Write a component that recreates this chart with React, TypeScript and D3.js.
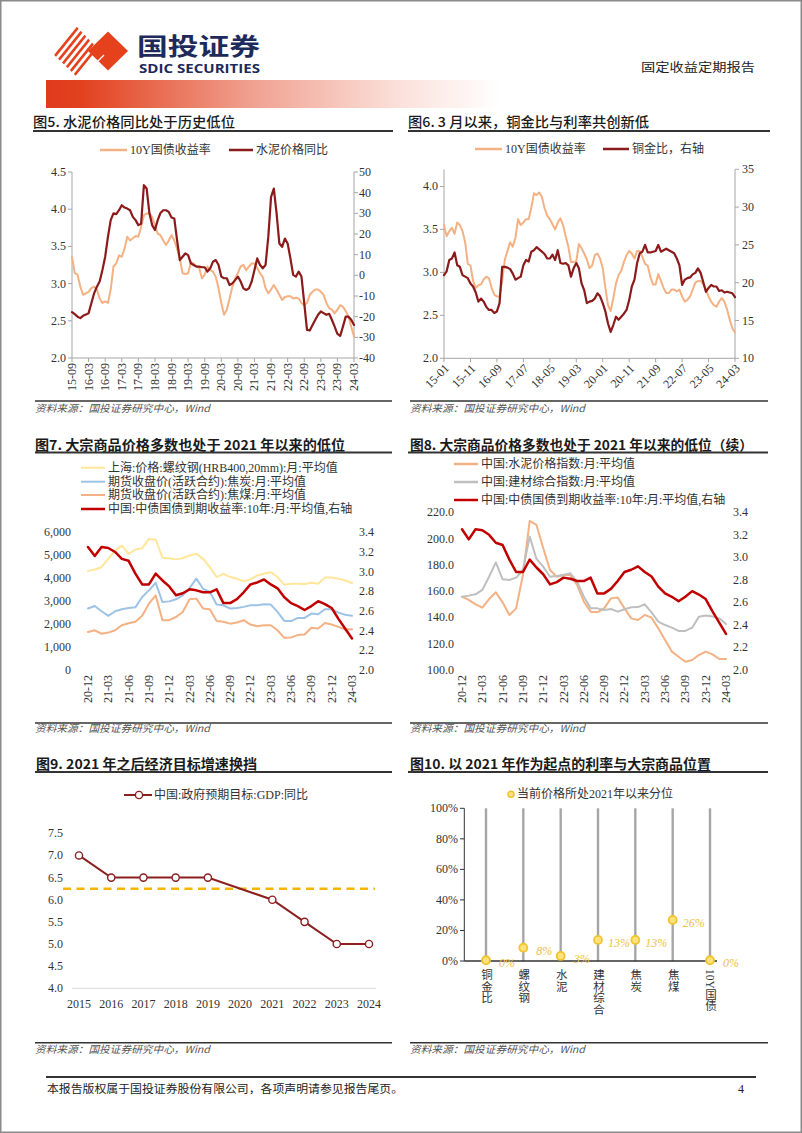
import React from 'react';
import * as d3 from 'd3';

const SERIF = '"Liberation Serif","Times New Roman","Noto Sans CJK SC",serif';
const CJK = '"Noto Sans CJK SC","Noto Sans",sans-serif';

function monthLabels(start: string, n: number): string[] {
  const [yy, mm] = start.split('-').map(Number);
  const out: string[] = [];
  for (let i = 0; i < n; i++) {
    const t = yy * 12 + (mm - 1) + i;
    const y = Math.floor(t / 12) % 100;
    const m = (t % 12) + 1;
    out.push(`${String(y).padStart(2, '0')}-${String(m).padStart(2, '0')}`);
  }
  return out;
}

// ---------- Chart 5: 10Y yield vs cement price YoY ----------
const c5Months = monthLabels('15-09', 103);
const c5Ticks = ['15-09','16-03','16-09','17-03','17-09','18-03','18-09','19-03','19-09','20-03','20-09','21-03','21-09','22-03','22-09','23-03','23-09','24-03'];
const c5Yield = [
  3.36,3.14,3.12,2.96,
  2.85,2.87,2.89,2.94,2.96,2.92,2.80,2.74,2.76,2.74,2.92,3.23,
  3.27,3.38,3.36,3.47,3.63,3.58,3.61,3.64,3.63,3.76,3.92,3.94,
  3.95,3.89,3.79,3.67,3.65,3.58,3.52,3.58,3.65,3.58,3.47,3.34,
  3.14,3.13,3.14,3.29,3.27,3.23,3.21,3.07,3.12,3.23,3.18,3.16,
  3.09,2.94,2.74,2.58,2.65,2.80,2.96,3.07,3.14,3.23,3.25,3.18,
  3.23,3.27,3.27,3.21,3.14,3.09,2.94,2.87,2.92,2.98,2.92,2.85,
  2.78,2.82,2.83,2.83,2.80,2.81,2.80,2.74,2.71,2.74,2.85,2.89,
  2.92,2.92,2.89,2.85,2.74,2.67,2.65,2.60,2.65,2.71,2.69,2.63,
  2.56,2.42,2.29,
];
const c5Cement = [
  -17.8,-18.8,-20,-20.7,
  -19.6,-19,-18.3,-13.5,-8.7,-5.5,-3,2.6,9,18.6,26.7,30,
  29.6,31.5,33.9,32.8,32.3,31.5,28.3,26.7,24.3,25,43.6,42,
  30,24.3,21.9,26.7,30.2,31.5,31.5,30.7,28,27.5,17,7.4,
  9,10.6,9.8,5.8,5,4.2,4.2,3.9,3.9,1.8,3.4,6.6,
  7.4,5,-0.6,-1.4,-1.4,-4.7,-3.9,-2.3,-0.6,-3,-6.3,-7.1,
  -6.3,-3,2.6,8.2,5,3.4,5,18.6,38,42,30,15.4,
  13.8,17.8,15.4,8.2,0.2,-0.6,1.8,-0.6,-13.5,-26.4,-26.7,-24,
  -21.5,-19.1,-17.5,-18.3,-19.1,-18.6,-21.5,-24.8,-28.3,-29.3,-24.8,-20,
  -20,-21.5,-24,
];
const c5LeftTicks = [2.0, 2.5, 3.0, 3.5, 4.0, 4.5];
const c5RightTicks = [-40, -30, -20, -10, 0, 10, 20, 30, 40, 50];

// ---------- Chart 6: 10Y yield vs copper/gold ratio ----------
const c6Months = monthLabels('15-01', 111);
const c6Ticks = ['15-01','15-11','16-09','17-07','18-05','19-03','20-01','20-11','21-09','22-07','23-05','24-03'];
const c6Yield = [
  3.55,3.42,3.48,3.52,3.45,3.58,3.55,3.48,3.35,3.10,3.08,2.90,
  2.82,2.85,2.86,2.92,2.95,2.93,2.82,2.74,2.72,2.72,2.90,3.15,
  3.25,3.35,3.30,3.40,3.62,3.55,3.58,3.62,3.62,3.75,3.92,3.90,
  3.93,3.88,3.75,3.66,3.62,3.56,3.50,3.58,3.63,3.55,3.42,3.30,
  3.12,3.12,3.13,3.33,3.28,3.22,3.15,3.05,3.08,3.20,3.22,3.16,
  3.05,2.82,2.62,2.55,2.70,2.87,2.97,3.02,3.12,3.20,3.25,3.22,
  3.16,3.25,3.25,3.18,3.10,3.08,2.95,2.86,2.86,2.98,2.90,2.82,
  2.76,2.76,2.80,2.80,2.78,2.80,2.72,2.66,2.68,2.72,2.80,2.88,
  2.90,2.90,2.86,2.80,2.72,2.66,2.62,2.60,2.66,2.70,2.66,2.57,
  2.45,2.35,2.30,
];
const c6CopperGold = [
  21.0,21.5,23.0,23.2,24.0,22.3,22.1,21.0,20.8,20.6,19.9,19.5,
  18.7,17.5,17.9,17.5,16.8,16.4,16.4,16.0,16.2,17.3,22.1,22.1,
  22.0,21.8,21.2,20.4,20.6,20.8,22.3,23.0,22.8,24.1,24.3,24.7,
  24.4,24.1,23.8,23.2,23.2,23.7,23.0,24.3,22.6,22.5,22.6,22.3,
  20.8,21.9,22.6,21.9,19.9,19.0,17.3,17.5,17.6,17.9,18.6,18.2,
  17.3,16.2,14.6,13.5,14.4,15.5,15.1,15.5,15.9,16.4,17.7,19.5,
  20.4,22.6,23.9,24.1,25.0,24.0,24.0,24.1,24.2,25.0,24.1,24.3,
  24.5,24.3,24.1,23.9,23.2,22.3,19.7,20.4,20.6,20.7,21.1,21.3,
  21.9,21.3,20.1,18.8,19.3,19.7,19.5,19.5,18.9,19.0,18.7,18.8,
  18.7,18.6,18.1,
];
const c6LeftTicks = [2.0, 2.5, 3.0, 3.5, 4.0];
const c6RightTicks = [10, 15, 20, 25, 30, 35];

// ---------- Charts 7 & 8: commodities since 2021 ----------
const c78Months = monthLabels('20-12', 40);
const c78Ticks = ['20-12','21-03','21-06','21-09','21-12','22-03','22-06','22-09','22-12','23-03','23-06','23-09','23-12','24-03'];
const rebar = [4309,4380,4480,4840,5200,5420,5060,5250,5300,5710,5680,4890,4870,4820,4870,4990,5060,4840,4480,4050,4190,4050,3980,3860,3950,4120,4190,4270,4050,3720,3760,3760,3750,3800,3760,4030,4030,3980,3900,3790];
const coke = [2680,2790,2560,2360,2560,2650,2700,2730,3180,3470,3800,2960,2990,3080,3250,3570,3980,3540,3400,2850,2820,2680,2700,2750,2820,2820,2860,2850,2530,2140,2130,2270,2270,2460,2430,2650,2650,2500,2410,2360];
const cokingCoal = [1660,1730,1580,1630,1730,1950,2040,2100,2360,2890,3250,2170,2170,2310,2530,3080,3110,2680,2650,2130,2100,2020,2070,2170,1980,1910,1950,1950,1730,1400,1420,1520,1550,1840,1810,2050,1980,1880,1760,1780];
const cgb10y = [3.25,3.16,3.25,3.24,3.20,3.13,3.11,2.98,2.87,2.87,2.98,2.91,2.85,2.76,2.78,2.82,2.81,2.79,2.79,2.82,2.68,2.68,2.72,2.79,2.87,2.89,2.92,2.87,2.83,2.74,2.68,2.65,2.61,2.65,2.70,2.67,2.63,2.52,2.42,2.32];
const cementIdx = [155.8,153.3,150.0,147.4,154.0,159.1,151.5,141.9,146.9,172.3,213.4,210.4,192.6,176.1,171.0,172.3,172.3,164.7,152.0,144.4,143.9,146.9,154.5,155.1,146.9,139.3,138.1,141.9,139.8,131.7,122.8,114.0,110.1,106.3,107.6,111.4,114.0,111.9,108.4,108.4];
const buildIdx = [155.8,156.6,157.6,160.9,171.0,181.9,169.0,168.5,170.3,176.1,201.5,184.5,178.6,171.0,171.5,172.3,173.6,167.2,155.8,146.9,146.9,145.7,146.4,144.4,146.2,147.7,147.9,150.0,143.9,136.8,134.2,132.2,129.7,129.7,132.2,140.6,141.4,140.8,139.3,135.0];
const c7LeftTicks = [0, 1000, 2000, 3000, 4000, 5000, 6000];
const c8LeftTicks = [100, 120, 140, 160, 180, 200, 220];
const yieldTicks = [2.0, 2.2, 2.4, 2.6, 2.8, 3.0, 3.2, 3.4];

// ---------- Chart 9: GDP target ----------
const gdpYears = ['2015','2016','2017','2018','2019','2020','2021','2022','2023','2024'];
const gdpTarget: (number | null)[] = [7.0, 6.5, 6.5, 6.5, 6.5, null, 6.0, 5.5, 5.0, 5.0];
const gdpRefLevel = 6.25;
const gdpTicks = [4.0, 4.5, 5.0, 5.5, 6.0, 6.5, 7.0, 7.5];

// ---------- Chart 10: percentile since 2021 ----------
const pctCats = ['铜金比','螺纹钢','水泥','建材综合','焦炭','焦煤','10Y国债'];
const pctValues = [0.5, 8.7, 3.3, 13.8, 13.8, 26.9, 0.5];
const pctLabels = ['0%','8%','3%','13%','13%','26%','0%'];
const pctTicks = [0, 20, 40, 60, 80, 100];

type Series = { values: number[]; axis: 'l' | 'r'; color: string; width: number };
type DualProps = {
  months: string[]; x0: number; x1: number; yTop: number; yBot: number;
  lDomain: [number, number]; rDomain: [number, number];
  lTicks: number[]; rTicks: number[];
  lFmt: (v: number) => string; rFmt: (v: number) => string;
  lLabelX: number; rLabelX: number;
  tickLabels: string[]; rotate: number; axes: boolean; series: Series[];
  xLabelOff: number;
};

function DualChart(p: DualProps) {
  const x = d3.scalePoint<string>().domain(p.months).range([p.x0, p.x1]);
  const yl = d3.scaleLinear().domain(p.lDomain).range([p.yBot, p.yTop]);
  const yr = d3.scaleLinear().domain(p.rDomain).range([p.yBot, p.yTop]);
  const axisC = '#a6a6a6';
  return (
    <g>
      {p.axes && (
        <g stroke={axisC} strokeWidth={1} fill="none">
          <line x1={p.x0} x2={p.x0} y1={p.yTop} y2={p.yBot} />
          {p.lTicks.map(v => <line key={'lt' + v} x1={p.x0 - 4} x2={p.x0} y1={yl(v)} y2={yl(v)} />)}
          <line x1={p.x1} x2={p.x1} y1={p.yTop} y2={p.yBot} />
          {p.rTicks.map(v => <line key={'rt' + v} x1={p.x1} x2={p.x1 + 4} y1={yr(v)} y2={yr(v)} />)}
          <line x1={p.x0} x2={p.x1} y1={p.yBot} y2={p.yBot} />
          {p.tickLabels.map(m => <line key={'xt' + m} x1={x(m)} x2={x(m)} y1={p.yBot} y2={p.yBot + 4} />)}
        </g>
      )}
      <g fontFamily={SERIF} fontSize={12} fill="#333">
        {p.lTicks.map(v => (
          <text key={'l' + v} x={p.lLabelX} y={yl(v)} textAnchor="end" dominantBaseline="central">{p.lFmt(v)}</text>
        ))}
        {p.rTicks.map(v => (
          <text key={'r' + v} x={p.rLabelX} y={yr(v)} textAnchor="start" dominantBaseline="central">{p.rFmt(v)}</text>
        ))}
        {p.tickLabels.map(m => {
          const xx = x(m)!;
          const tr = p.rotate === -90
            ? `translate(${xx},${p.yBot + p.xLabelOff}) rotate(-90)`
            : `translate(${xx + 3},${p.yBot + p.xLabelOff}) rotate(-45)`;
          return <text key={'x' + m} transform={tr} textAnchor="end" dominantBaseline="central">{m}</text>;
        })}
      </g>
      {p.series.map((s, si) => {
        const ys = s.axis === 'l' ? yl : yr;
        const line = d3.line<number>()
          .x((_, i) => x(p.months[i])!)
          .y(v => ys(v))
          .curve(d3.curveLinear);
        return <path key={si} d={line(s.values) || ''} fill="none" stroke={s.color} strokeWidth={s.width} strokeLinejoin="round" strokeLinecap="round" />;
      })}
    </g>
  );
}

function LegendLine({ x, y, w, color, width, label, size = 12 }: { x: number; y: number; w: number; color: string; width: number; label: string; size?: number }) {
  return (
    <g>
      <line x1={x} x2={x + w} y1={y} y2={y} stroke={color} strokeWidth={width} />
      <text x={x + w + 3} y={y} dominantBaseline="central" fontFamily={SERIF} fontSize={size} fill="#333">{label}</text>
    </g>
  );
}

function Title({ x, y, text, len, bold = true, lineX1, lineX2, lineY }: { x: number; y: number; text: string; len: number; bold?: boolean; lineX1: number; lineX2: number; lineY: number }) {
  return (
    <g>
      <text x={x} y={y} fontFamily={CJK} fontWeight={bold ? 700 : 500} fontSize={13.5} fill="#1a1a1a" textLength={len} lengthAdjust="spacingAndGlyphs">{text}</text>
      <line x1={lineX1} x2={lineX2} y1={lineY} y2={lineY} stroke="#333" strokeWidth={2} />
    </g>
  );
}

function Source({ x, y, lineX2, lineY }: { x: number; y: number; lineX2: number; lineY: number }) {
  return (
    <g>
      <line x1={x} x2={lineX2} y1={lineY} y2={lineY} stroke="#333" strokeWidth={1.5} />
      <text x={x} y={y} fontFamily={CJK} fontStyle="italic" fontSize={10} fill="#555" textLength={175} lengthAdjust="spacingAndGlyphs">资料来源：国投证券研究中心，Wind</text>
    </g>
  );
}

function Chart9() {
  const x = d3.scalePoint<string>().domain(gdpYears).range([79, 369]);
  const y = d3.scaleLinear().domain([4, 7.5]).range([988.3, 833.3]);
  const pts = gdpYears.map((yr, i) => ({ yr, v: gdpTarget[i] })).filter(d => d.v !== null) as { yr: string; v: number }[];
  const line = d3.line<{ yr: string; v: number }>().x(d => x(d.yr)!).y(d => y(d.v));
  const color = '#8c1f1f';
  return (
    <g>
      <line x1={72} x2={376} y1={y(4)} y2={y(4)} stroke="#d9d9d9" strokeWidth={1} />
      <g fontFamily={SERIF} fontSize={12} fill="#333">
        {gdpTicks.map(v => <text key={v} x={63} y={y(v)} textAnchor="end" dominantBaseline="central">{v.toFixed(1)}</text>)}
        {gdpYears.map(yr => <text key={yr} x={x(yr)} y={1003.5} textAnchor="middle" dominantBaseline="central">{yr}</text>)}
      </g>
      <line x1={63} x2={375} y1={y(gdpRefLevel)} y2={y(gdpRefLevel)} stroke="#f5b400" strokeWidth={2.5} strokeDasharray="8 5.5" />
      <path d={line(pts) || ''} fill="none" stroke={color} strokeWidth={2} />
      {pts.map(d => <circle key={d.yr} cx={x(d.yr)} cy={y(d.v)} r={3.6} fill="#fff" stroke={color} strokeWidth={1.4} />)}
      <line x1={124} x2={152} y1={795} y2={795} stroke={color} strokeWidth={2} />
      <circle cx={139} cy={795} r={3.6} fill="#fff" stroke={color} strokeWidth={1.4} />
      <text x={154} y={795} dominantBaseline="central" fontFamily={SERIF} fontSize={12} fill="#333">中国:政府预期目标:GDP:同比</text>
    </g>
  );
}

function Chart10() {
  const x = d3.scalePoint<string>().domain(pctCats).range([486, 710]);
  const y = d3.scaleLinear().domain([0, 100]).range([961, 808.3]);
  const dotFill = '#ffe27a';
  const dotStroke = '#f2c230';
  return (
    <g>
      {pctCats.map(c => (
        <line key={'v' + c} x1={x(c)} x2={x(c)} y1={y(0)} y2={y(100)} stroke="#a6a6a6" strokeWidth={2.4} />
      ))}
      <g stroke="#333" strokeWidth={1}>
        <line x1={464.3} x2={464.3} y1={y(0)} y2={y(100)} />
        {pctTicks.map(v => <line key={'t' + v} x1={460} x2={464.3} y1={y(v)} y2={y(v)} />)}
        <line x1={464.3} x2={717} y1={y(0)} y2={y(0)} strokeWidth={1.5} />
      </g>
      <g fontFamily={SERIF} fontSize={12} fill="#333">
        {pctTicks.map(v => <text key={v} x={458} y={y(v)} textAnchor="end" dominantBaseline="central">{v}%</text>)}
      </g>
      {pctCats.map((c, i) => (
        <g key={'d' + c}>
          <circle cx={x(c)} cy={y(pctValues[i])} r={4} fill={dotFill} stroke={dotStroke} strokeWidth={1.8} />
          <text x={x(c)! + 21} y={y(pctValues[i]) + 3} textAnchor="middle" dominantBaseline="central" fontFamily={SERIF} fontStyle="italic" fontSize={12} fill="#f0c040">{pctLabels[i]}</text>
        </g>
      ))}
      <g fontFamily={SERIF} fontSize={11.5} fill="#333">
        {pctCats.map(c => (
          <text key={'c' + c} x={x(c)} y={969} style={{ writingMode: 'vertical-rl' as any }}>{c}</text>
        ))}
      </g>
      <circle cx={511} cy={794.3} r={3} fill={dotFill} stroke={dotStroke} strokeWidth={1.5} />
      <text x={517} y={794.3} dominantBaseline="central" fontFamily={SERIF} fontSize={12} fill="#333">当前价格所处2021年以来分位</text>
    </g>
  );
}

function Logo() {
  const red = '#e5411d';
  const stripes = d3.range(7);
  return (
    <g>
      <defs>
        <clipPath id="stripeClip">
          <polygon points="50,51 76,26 100,51 76,76" />
        </clipPath>
      </defs>
      <g clipPath="url(#stripeClip)" stroke={red} strokeWidth={2.6}>
        {stripes.map(i => (
          <line key={i} x1={38 + i * 7} y1={77} x2={80 + i * 7} y2={25} />
        ))}
      </g>
      <polygon points="108,31.5 128,51 108,70.5 88,51" fill={red} />
      <line x1={96} y1={63} x2={104} y2={55} stroke="#fff" strokeWidth={1.2} />
      <text x={137} y={55} fontFamily={CJK} fontWeight={700} fontSize={24} fill="#1d2a5b" textLength={123} lengthAdjust="spacingAndGlyphs">国投证券</text>
      <text x={139} y={73} fontFamily='"Open Sans","Noto Sans",sans-serif' fontWeight={700} fontSize={12} fill="#1d2a5b" textLength={121} lengthAdjust="spacingAndGlyphs">SDIC SECURITIES</text>
    </g>
  );
}

export default function App() {
  const W = 802, H = 1133;
  return (
    <svg width={W} height={H} viewBox={`0 0 ${W} ${H}`} style={{ position: 'absolute', left: 0, top: 0, background: '#fff' }}>
      <defs>
        <linearGradient id="hdrGrad" x1="0" x2="1" y1="0" y2="0">
          <stop offset="0" stopColor="#e03a1c" />
          <stop offset="0.08" stopColor="#e2421f" />
          <stop offset="0.45" stopColor="#f0a08f" />
          <stop offset="0.78" stopColor="#fbe1db" />
          <stop offset="1" stopColor="#ffffff" />
        </linearGradient>
      </defs>
      <rect x={0} y={0} width={W} height={H} fill="#fff" />
      <rect x={0.75} y={0.75} width={W - 1.5} height={H - 1.5} fill="none" stroke="#8a8a8a" strokeWidth={1.5} />

      {/* header */}
      <Logo />
      <text x={641} y={72} fontFamily={CJK} fontSize={12} fill="#222" textLength={114} lengthAdjust="spacingAndGlyphs">固定收益定期报告</text>
      <rect x={46} y={80} width={454} height={28} fill="url(#hdrGrad)" />

      {/* Chart 5 */}
      <Title x={33} y={127} text="图5. 水泥价格同比处于历史低位" len={202} bold={false} lineX1={33} lineX2={393} lineY={131} />
      <LegendLine x={100} y={150} w={27} color="#f4b183" width={2.5} label="10Y国债收益率" />
      <LegendLine x={229} y={150} w={24} color="#8b1a1a" width={2.5} label="水泥价格同比" />
      <DualChart months={c5Months} x0={72} x1={354} yTop={172} yBot={358}
        lDomain={[2, 4.5]} rDomain={[-40, 50]} lTicks={c5LeftTicks} rTicks={c5RightTicks}
        lFmt={v => v.toFixed(1)} rFmt={v => String(v)} lLabelX={66} rLabelX={359}
        tickLabels={c5Ticks} rotate={-90} axes={true} xLabelOff={5}
        series={[
          { values: c5Yield, axis: 'l', color: '#f4b183', width: 2 },
          { values: c5Cement, axis: 'r', color: '#8b1a1a', width: 2.2 },
        ]} />
      <Source x={35} y={412} lineX2={392} lineY={401} />

      {/* Chart 6 */}
      <Title x={408} y={127} text="图6. 3 月以来，铜金比与利率共创新低" len={241} bold={false} lineX1={408} lineX2={770} lineY={131} />
      <LegendLine x={475} y={149} w={27} color="#f4b183" width={2.5} label="10Y国债收益率" />
      <LegendLine x={603} y={149} w={26} color="#8b1a1a" width={2.5} label="铜金比，右轴" />
      <DualChart months={c6Months} x0={444} x1={735} yTop={169.3} yBot={358.3}
        lDomain={[2, 4.2]} rDomain={[10, 35]} lTicks={c6LeftTicks} rTicks={c6RightTicks}
        lFmt={v => v.toFixed(1)} rFmt={v => String(v)} lLabelX={438} rLabelX={742}
        tickLabels={c6Ticks} rotate={-45} axes={true} xLabelOff={8}
        series={[
          { values: c6Yield, axis: 'l', color: '#f4b183', width: 2 },
          { values: c6CopperGold, axis: 'r', color: '#8b1a1a', width: 2.2 },
        ]} />
      <Source x={410} y={412} lineX2={768} lineY={401} />

      {/* Chart 7 */}
      <Title x={35} y={449.5} text="图7. 大宗商品价格多数也处于 2021 年以来的低位" len={310} lineX1={35} lineX2={392} lineY={452.5} />
      <LegendLine x={81} y={467.7} w={24} color="#ffe699" width={2} label="上海:价格:螺纹钢(HRB400,20mm):月:平均值" />
      <LegendLine x={81} y={481.7} w={24} color="#9dc3e6" width={2} label="期货收盘价(活跃合约):焦炭:月:平均值" />
      <LegendLine x={81} y={495} w={24} color="#f4b183" width={2} label="期货收盘价(活跃合约):焦煤:月:平均值" />
      <LegendLine x={81} y={509} w={24} color="#c00000" width={2.5} label="中国:中债国债到期收益率:10年:月:平均值,右轴" />
      <DualChart months={c78Months} x0={88} x1={352} yTop={532.3} yBot={670}
        lDomain={[0, 6000]} rDomain={[2, 3.4]} lTicks={c7LeftTicks} rTicks={yieldTicks}
        lFmt={d3.format(',')} rFmt={v => v.toFixed(1)} lLabelX={71} rLabelX={359}
        tickLabels={c78Ticks} rotate={-90} axes={false} xLabelOff={5}
        series={[
          { values: rebar, axis: 'l', color: '#ffe699', width: 2 },
          { values: coke, axis: 'l', color: '#9dc3e6', width: 2 },
          { values: cokingCoal, axis: 'l', color: '#f4b183', width: 2 },
          { values: cgb10y, axis: 'r', color: '#c00000', width: 2.5 },
        ]} />
      <Source x={35} y={732} lineX2={392} lineY={723} />

      {/* Chart 8 */}
      <Title x={410} y={449.5} text="图8. 大宗商品价格多数也处于 2021 年以来的低位（续）" len={343} lineX1={408} lineX2={768} lineY={452.5} />
      <LegendLine x={454} y={464} w={24} color="#f4b183" width={2.5} label="中国:水泥价格指数:月:平均值" />
      <LegendLine x={454} y={482} w={24} color="#bfbfbf" width={2.5} label="中国:建材综合指数:月:平均值" />
      <LegendLine x={454} y={500} w={24} color="#c00000" width={2.5} label="中国:中债国债到期收益率:10年:月:平均值,右轴" />
      <DualChart months={c78Months} x0={462} x1={726} yTop={512.3} yBot={670}
        lDomain={[100, 220]} rDomain={[2, 3.4]} lTicks={c8LeftTicks} rTicks={yieldTicks}
        lFmt={v => v.toFixed(1)} rFmt={v => v.toFixed(1)} lLabelX={454} rLabelX={733}
        tickLabels={c78Ticks} rotate={-90} axes={false} xLabelOff={5}
        series={[
          { values: cementIdx, axis: 'l', color: '#f4b183', width: 2 },
          { values: buildIdx, axis: 'l', color: '#bfbfbf', width: 2 },
          { values: cgb10y, axis: 'r', color: '#c00000', width: 2.5 },
        ]} />
      <Source x={410} y={732} lineX2={768} lineY={723} />

      {/* Chart 9 */}
      <Title x={36} y={768.5} text="图9. 2021 年之后经济目标增速换挡" len={221} lineX1={35} lineX2={392} lineY={772} />
      <Chart9 />
      <Source x={35} y={1053} lineX2={392} lineY={1042.7} />

      {/* Chart 10 */}
      <Title x={410} y={768.5} text="图10. 以 2021 年作为起点的利率与大宗商品位置" len={301} lineX1={408} lineX2={768} lineY={772} />
      <Chart10 />
      <Source x={410} y={1053} lineX2={768} lineY={1042.7} />

      {/* footer */}
      <line x1={46} x2={756} y1={1077} y2={1077} stroke="#333" strokeWidth={2} />
      <text x={47} y={1093} fontFamily={CJK} fontSize={11} fill="#222" textLength={356} lengthAdjust="spacingAndGlyphs">本报告版权属于国投证券股份有限公司，各项声明请参见报告尾页。</text>
      <text x={741} y={1093} fontFamily={SERIF} fontSize={12} fill="#222" textAnchor="middle">4</text>
    </svg>
  );
}
